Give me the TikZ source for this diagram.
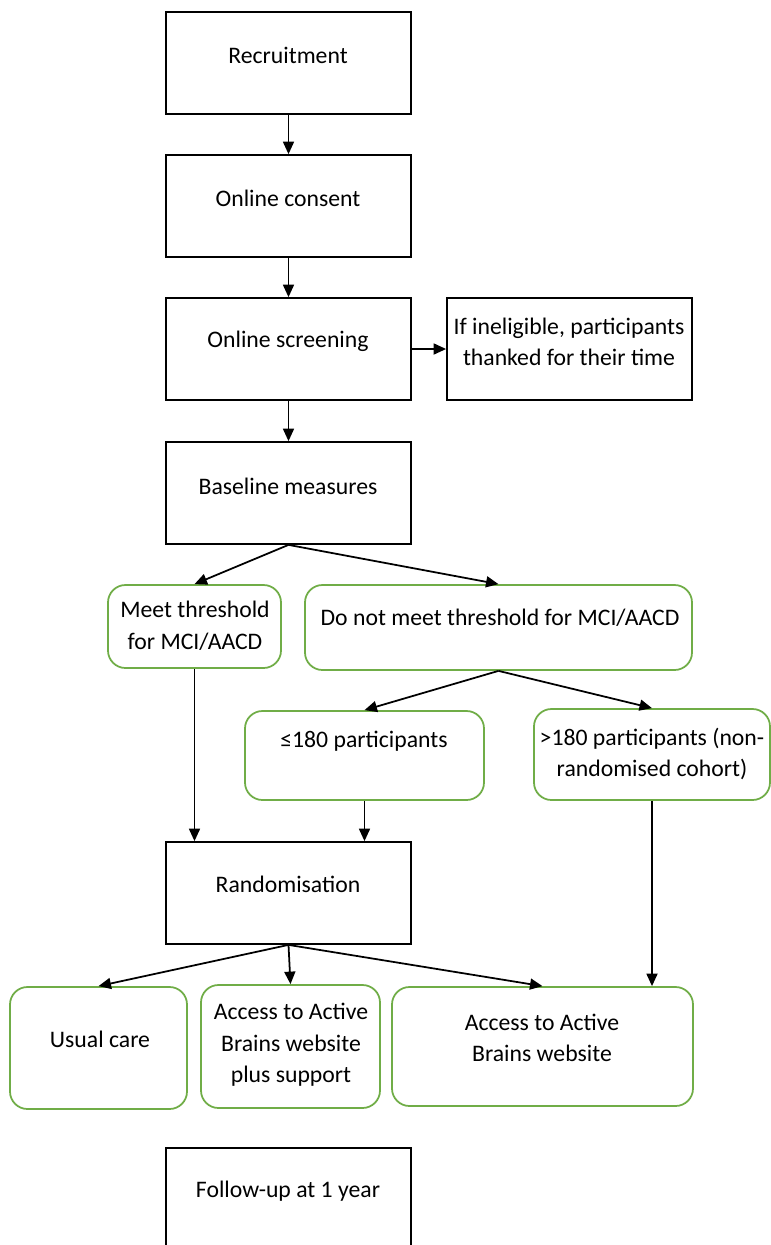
\documentclass[tikz,border=0pt]{standalone}
\usepackage{fontspec}
\setmainfont{Carlito}
\usetikzlibrary{arrows.meta,fit}
\definecolor{boxgreen}{RGB}{112,173,71}
\begin{document}
\begin{tikzpicture}[x=0.02cm,y=-0.02cm,
    font=\fontsize{13.5}{18}\selectfont,
    stagebox/.style={draw=black, line width=1pt, inner sep=0pt},
    groupbox/.style={draw=boxgreen, line width=1pt, rounded corners=0.35cm, inner sep=0pt},
    txt/.style={align=center, inner sep=0pt},
    arr/.style={-{Triangle[length=0.25cm,width=0.22cm]}, line width=1pt}]
    \useasboundingbox (0,0) rectangle (771,1245);

    % Main stages (black boxes)
    \node [stagebox, fit={(166,12) (411,114)}] (recruit) {};
    \node [txt] (recruittxt) at (288,55) {Recruitment};

    \node [stagebox, fit={(166,155) (411,257)}] (consent) {};
    \node [txt] (consenttxt) at (288,198) {Online consent};

    \node [stagebox, fit={(166,298) (411,400)}] (screen) {};
    \node [txt] (screentxt) at (288,341) {Online screening};

    \node [stagebox, fit={(447,298) (692,400)}] (inelig) {};
    \node [txt] (ineligtxt) at (569,342) {If ineligible, participants\\thanked for their time};

    \node [stagebox, fit={(166,442) (411,544)}] (baseline) {};
    \node [txt] (baselinetxt) at (288,486) {Baseline measures};

    % Threshold groups (green boxes)
    \node [groupbox, fit={(108,585) (281,668)}] (meet) {};
    \node [txt] (meettxt) at (195,626) {Meet threshold\\for MCI/AACD};

    \node [groupbox, fit={(305,585) (692,670)}] (notmeet) {};
    \node [txt] (notmeettxt) at (500,618) {Do not meet threshold for MCI/AACD};

    \node [groupbox, fit={(245,711) (484,800)}] (lowcount) {};
    \node [txt] (lowcounttxt) at (364,741) {≤180 participants};

    \node [groupbox, fit={(534,709) (770,800)}] (highcount) {};
    \node [txt] (highcounttxt) at (652,754) {>180 participants (non-\\randomised cohort)};

    \node [stagebox, fit={(166,842) (411,944)}] (random) {};
    \node [txt] (randomtxt) at (288,884) {Randomisation};

    % Trial arms
    \node [groupbox, fit={(10,987) (187,1109)}] (usual) {};
    \node [txt] (usualtxt) at (100,1039) {Usual care};

    \node [groupbox, fit={(201,985) (380,1108)}] (support) {};
    \node [txt] (supporttxt) at (291,1045) {Access to Active\\Brains website\\plus support};

    \node [groupbox, fit={(392,987) (693,1106)}] (website) {};
    \node [txt] (websitetxt) at (542,1038) {Access to Active\\Brains website};

    \node [stagebox, fit={(166,1148) (411,1250)}] (followup) {};
    \node [txt] (followuptxt) at (288,1191) {Follow-up at 1 year};

    % Connectors
    \draw [arr] (recruit.south) -- (consent.north);
    \draw [arr] (consent.south) -- (screen.north);
    \draw [arr] (screen.south) -- (baseline.north);
    \draw [arr] (screen.east) -- (inelig.west);
    \draw [arr] (baseline.south) -- (meet.north);
    \draw [arr] (baseline.south) -- (notmeet.north);
    \draw [arr] (notmeet.south) -- (lowcount.north);
    \draw [arr] (notmeet.south) -- (highcount.north);
    \draw [arr] (meet.south) -- (meet.south |- random.north);
    \draw [arr] (lowcount.south) -- (lowcount.south |- random.north);
    \draw [arr] (highcount.south) -- (highcount.south |- website.north);
    \draw [arr] (random.south) -- (usual.north);
    \draw [arr] (random.south) -- (support.north);
    \draw [arr] (random.south) -- (website.north);
\end{tikzpicture}
\end{document}
